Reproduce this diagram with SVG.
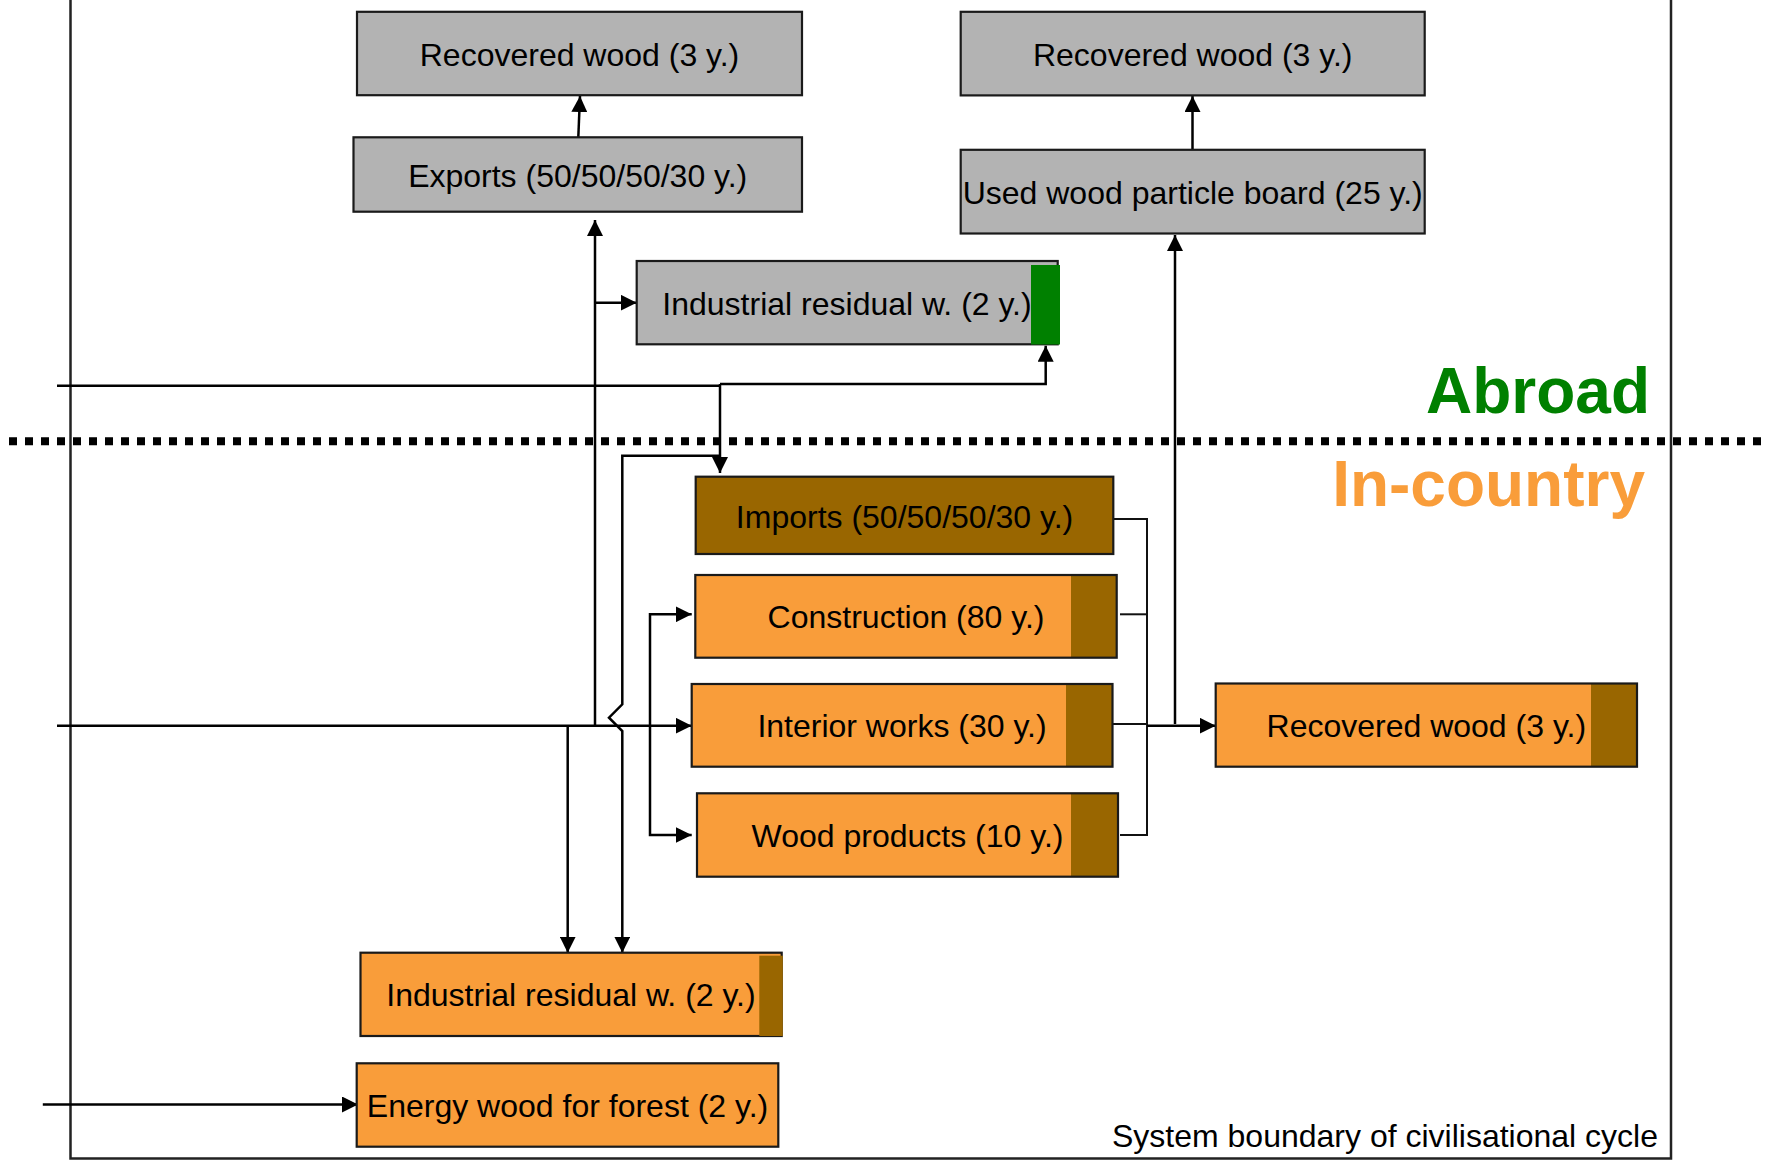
<svg xmlns="http://www.w3.org/2000/svg" width="1768" height="1160" viewBox="0 0 1768 1160">
<style>
.box{stroke:#1a1a1a;stroke-width:2.2}
.gray{fill:#B3B3B3}
.orange{fill:#F99D3A}
.brown{fill:#996600}
.green{fill:#008000}
.lbl{font-family:"Liberation Sans",Arial,sans-serif;font-size:32px;fill:#000;text-anchor:middle}
.con{fill:none;stroke:#000;stroke-width:2.5}
.thin{fill:none;stroke:#111;stroke-width:2}
.region{font-family:"Liberation Sans",Arial,sans-serif;font-weight:bold;font-size:64px;text-anchor:end}
</style>
<defs>
<marker id="arr" markerUnits="userSpaceOnUse" markerWidth="16" markerHeight="16" viewBox="0 0 16 16" refX="16" refY="8" orient="auto">
<path d="M0,0 L16,8 L0,16 Z" fill="#000"/>
</marker>
</defs>
<rect width="1768" height="1160" fill="#fff"/>

<g id="boundary">
<path d="M70.5,0 V1158.5 H1671 V0" fill="none" stroke="#222" stroke-width="2.5"/>
<text x="1658" y="1146.5" font-family="Liberation Sans, Arial, sans-serif" font-size="32" text-anchor="end" fill="#000">System boundary of civilisational cycle</text>
</g>

<g id="divider">
<line x1="9" y1="441.3" x2="1768" y2="441.3" stroke="#000" stroke-width="8" stroke-dasharray="8 8"/>
<text class="region" x="1650" y="413.3" fill="#008000">Abroad</text>
<text class="region" x="1645" y="505.7" fill="#F99D3A" font-size="63.5">In-country</text>
</g>

<g id="connectors">
<path class="con" d="M578.3,137.3 L580,96" marker-end="url(#arr)"/>
<path class="con" d="M595,725.7 V220" marker-end="url(#arr)"/>
<path class="con" d="M595,302.7 H636.7" marker-end="url(#arr)"/>
<path class="con" d="M57,385.7 H720"/>
<path class="con" d="M720,384 V473" marker-end="url(#arr)"/>
<path class="con" d="M720,384 H1045.7 V345.7" marker-end="url(#arr)"/>
<path class="con" d="M720,455.7 H622.3 V704.3 L609,717.7 L622.3,731 V952.7" marker-end="url(#arr)"/>
<path class="con" d="M57,725.7 H691.7" marker-end="url(#arr)"/>
<path class="con" d="M567.7,725.7 V952.7" marker-end="url(#arr)"/>
<path class="con" d="M650,725.7 V614.3 H691.7" marker-end="url(#arr)"/>
<path class="con" d="M650,725.7 V835 H691.7" marker-end="url(#arr)"/>
<path class="thin" d="M1113.3,519 H1147 V835 H1120"/>
<path class="thin" d="M1120,614.3 H1147"/>
<path class="thin" d="M1113,724 H1147"/>
<path class="con" d="M1147,725.7 H1215.7" marker-end="url(#arr)"/>
<path class="con" d="M1175,724 V235" marker-end="url(#arr)"/>
<path class="con" d="M1192.5,149.8 V96" marker-end="url(#arr)"/>
<path class="con" d="M42.8,1104.5 H358" marker-end="url(#arr)"/>
</g>

<g id="recovered-wood-abroad-1">
<rect class="box gray" x="357" y="11.8" width="445" height="83.4"/>
<text class="lbl" x="579.5" y="65.5">Recovered wood (3 y.)</text>
</g>
<g id="exports">
<rect class="box gray" x="353.5" y="137.3" width="448.5" height="74.4"/>
<text class="lbl" x="577.7" y="186.5">Exports (50/50/50/30 y.)</text>
</g>
<g id="industrial-residual-abroad">
<rect class="box gray" x="636.7" y="261" width="421" height="83.3"/>
<rect class="green" x="1031" y="265" width="29" height="79.5"/>
<text class="lbl" x="847" y="314.5">Industrial residual w. (2 y.)</text>
</g>
<g id="recovered-wood-abroad-2">
<rect class="box gray" x="960.7" y="11.8" width="464" height="83.6"/>
<text class="lbl" x="1192.7" y="65.5">Recovered wood (3 y.)</text>
</g>
<g id="used-wood-particle-board">
<rect class="box gray" x="960.7" y="149.8" width="464" height="83.7"/>
<text class="lbl" x="1192.7" y="203.5">Used wood particle board (25 y.)</text>
</g>
<g id="imports">
<rect class="box brown" x="695.7" y="476.7" width="417.6" height="77.3"/>
<text class="lbl" x="904.5" y="527.5">Imports (50/50/50/30 y.)</text>
</g>
<g id="construction">
<rect class="orange" x="695.3" y="575" width="421.4" height="82.7"/>
<rect class="brown" x="1071" y="575" width="45.7" height="82.7"/>
<rect class="box" fill="none" x="695.3" y="575" width="421.4" height="82.7"/>
<text class="lbl" x="906" y="628.2">Construction (80 y.)</text>
</g>
<g id="interior-works">
<rect class="orange" x="691.7" y="684" width="420.8" height="82.7"/>
<rect class="brown" x="1066" y="684" width="46.5" height="82.7"/>
<rect class="box" fill="none" x="691.7" y="684" width="420.8" height="82.7"/>
<text class="lbl" x="902" y="737.2">Interior works (30 y.)</text>
</g>
<g id="wood-products">
<rect class="orange" x="697" y="793.3" width="421" height="83.4"/>
<rect class="brown" x="1071" y="793.3" width="47" height="83.4"/>
<rect class="box" fill="none" x="697" y="793.3" width="421" height="83.4"/>
<text class="lbl" x="907.5" y="846.8">Wood products (10 y.)</text>
</g>
<g id="recovered-wood-incountry">
<rect class="orange" x="1215.7" y="683.5" width="421.3" height="83.2"/>
<rect class="brown" x="1591" y="683.5" width="46" height="83.2"/>
<rect class="box" fill="none" x="1215.7" y="683.5" width="421.3" height="83.2"/>
<text class="lbl" x="1426.3" y="737.2">Recovered wood (3 y.)</text>
</g>
<g id="industrial-residual-incountry">
<rect class="box orange" x="360.5" y="952.7" width="421.2" height="83.3"/>
<rect class="brown" x="759.3" y="955.7" width="23.5" height="80.3"/>
<text class="lbl" x="571" y="1006.2">Industrial residual w. (2 y.)</text>
</g>
<g id="energy-wood">
<rect class="box orange" x="356.7" y="1063.3" width="421.6" height="83.4"/>
<text class="lbl" x="567.5" y="1116.5">Energy wood for forest (2 y.)</text>
</g>
</svg>
